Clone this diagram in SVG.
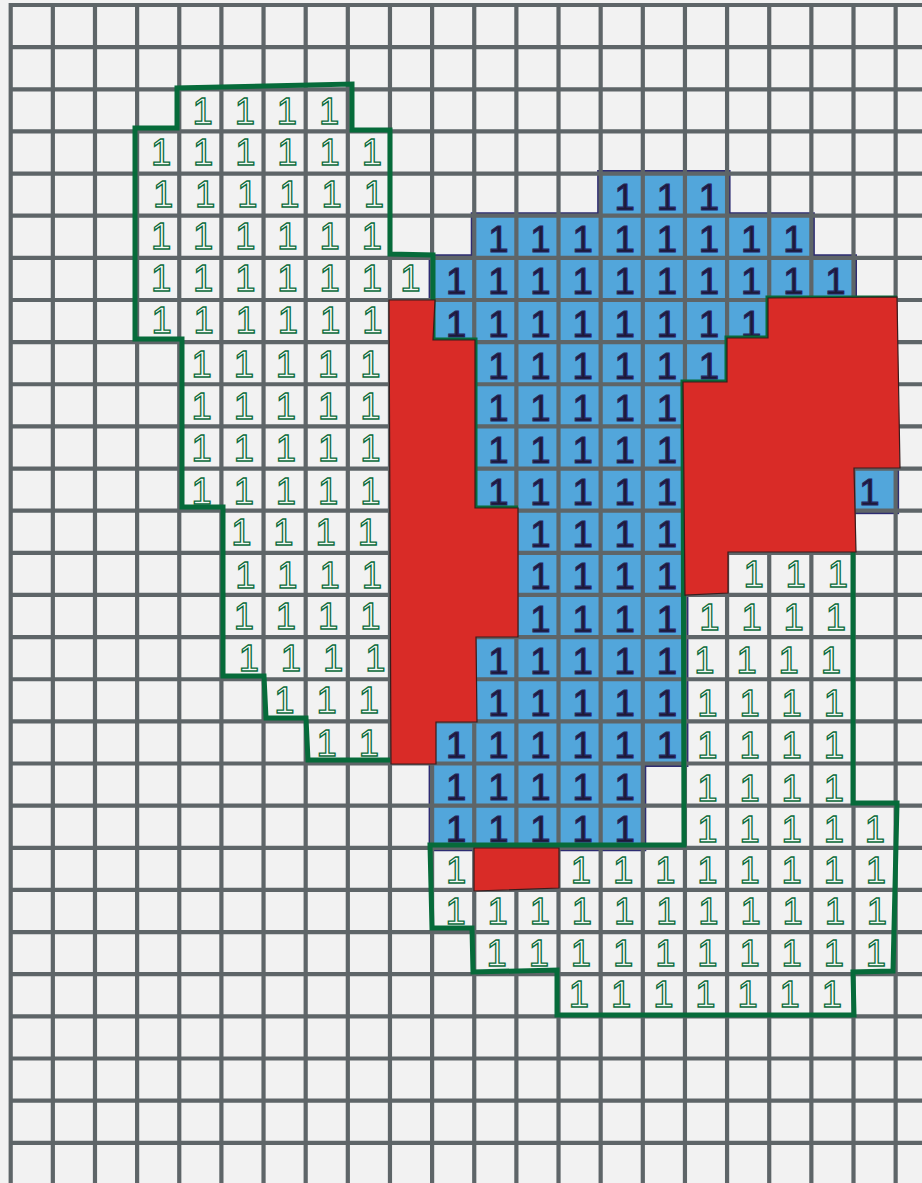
<svg xmlns="http://www.w3.org/2000/svg" width="922" height="1183" viewBox="0 0 922 1183">
<style>
.grid{fill:none;stroke:#5e6568;stroke-width:4.2}
.bl{fill:#52a6db}
.blo{fill:none;stroke:#2d2c72;stroke-width:7;stroke-linejoin:miter}
.b{font-family:"Liberation Sans",Arial,sans-serif;font-size:36.5px;fill:#1c1a36;stroke:#26245e;stroke-width:1.2px;text-anchor:middle}
.g{font-family:"Liberation Sans",Arial,sans-serif;font-size:36.5px;fill:#f7faf7;stroke:#0a6b3b;stroke-width:1.3px;text-anchor:middle}
.gl{fill:none;stroke:#066b3a;stroke-width:5;stroke-linejoin:miter}
.red{fill:#d92b27;stroke:#3a1c1c;stroke-width:1.2}
</style>
<rect x="0" y="0" width="922" height="1183" fill="#f2f2f2"/>
<g id="blue-region">
<path class="blo" d="M600.66,173.56 L727.08,173.56 L727.08,215.7 L811.36,215.7 L811.36,257.84 L853.5,257.84 L853.5,299.98 L769.22,299.98 L769.22,342.12 L727.08,342.12 L727.08,384.26 L684.94,384.26 L684.94,763.52 L642.8,763.52 L642.8,847.8 L432.1,847.8 L432.1,721.38 L474.24,721.38 L474.24,637.1 L516.38,637.1 L516.38,510.68 L474.24,510.68 L474.24,342.12 L432.1,342.12 L432.1,257.84 L474.24,257.84 L474.24,215.7 L600.66,215.7 Z"/>
<rect class="blo" x="853.5" y="468.54" width="42.14" height="42.14"/>
<path class="bl" d="M600.66,173.56 L727.08,173.56 L727.08,215.7 L811.36,215.7 L811.36,257.84 L853.5,257.84 L853.5,299.98 L769.22,299.98 L769.22,342.12 L727.08,342.12 L727.08,384.26 L684.94,384.26 L684.94,763.52 L642.8,763.52 L642.8,847.8 L432.1,847.8 L432.1,721.38 L474.24,721.38 L474.24,637.1 L516.38,637.1 L516.38,510.68 L474.24,510.68 L474.24,342.12 L432.1,342.12 L432.1,257.84 L474.24,257.84 L474.24,215.7 L600.66,215.7 Z"/>
<rect class="bl" x="853.5" y="468.54" width="42.14" height="42.14"/>
</g>
<g id="grid">
<path class="grid" d="M10.7,3V1183 M52.84,3V1183 M94.98,3V1183 M137.12,3V1183 M179.26,3V1183 M221.4,3V1183 M263.54,3V1183 M305.68,3V1183 M347.82,3V1183 M389.96,3V1183 M432.1,3V1183 M474.24,3V1183 M516.38,3V1183 M558.52,3V1183 M600.66,3V1183 M642.8,3V1183 M684.94,3V1183 M727.08,3V1183 M769.22,3V1183 M811.36,3V1183 M853.5,3V1183 M895.64,3V1183 M8.6,5H922 M8.6,47.14H922 M8.6,89.28H922 M8.6,131.42H922 M8.6,173.56H922 M8.6,215.7H922 M8.6,257.84H922 M8.6,299.98H922 M8.6,342.12H922 M8.6,384.26H922 M8.6,426.4H922 M8.6,468.54H922 M8.6,510.68H922 M8.6,552.82H922 M8.6,594.96H922 M8.6,637.1H922 M8.6,679.24H922 M8.6,721.38H922 M8.6,763.52H922 M8.6,805.66H922 M8.6,847.8H922 M8.6,889.94H922 M8.6,932.08H922 M8.6,974.22H922 M8.6,1016.36H922 M8.6,1058.5H922 M8.6,1100.64H922 M8.6,1142.78H922"/>
</g>
<g id="blue-values">
<text class="b" x="624.7" y="210.1">1</text><text class="b" x="666.9" y="210.1">1</text><text class="b" x="709" y="210.1">1</text>
<text class="b" x="498.3" y="252.2">1</text><text class="b" x="540.5" y="252.2">1</text><text class="b" x="582.6" y="252.2">1</text><text class="b" x="624.7" y="252.2">1</text><text class="b" x="666.9" y="252.2">1</text><text class="b" x="709" y="252.2">1</text><text class="b" x="751.2" y="252.2">1</text><text class="b" x="793.3" y="252.2">1</text>
<text class="b" x="456.2" y="294.3">1</text><text class="b" x="498.3" y="294.3">1</text><text class="b" x="540.5" y="294.3">1</text><text class="b" x="582.6" y="294.3">1</text><text class="b" x="624.7" y="294.3">1</text><text class="b" x="666.9" y="294.3">1</text><text class="b" x="709" y="294.3">1</text><text class="b" x="751.2" y="294.3">1</text><text class="b" x="793.3" y="294.3">1</text><text class="b" x="835.4" y="294.3">1</text>
<text class="b" x="456.2" y="336.5">1</text><text class="b" x="498.3" y="336.5">1</text><text class="b" x="540.5" y="336.5">1</text><text class="b" x="582.6" y="336.5">1</text><text class="b" x="624.7" y="336.5">1</text><text class="b" x="666.9" y="336.5">1</text><text class="b" x="709" y="336.5">1</text><text class="b" x="751.2" y="336.5">1</text>
<text class="b" x="498.3" y="378.6">1</text><text class="b" x="540.5" y="378.6">1</text><text class="b" x="582.6" y="378.6">1</text><text class="b" x="624.7" y="378.6">1</text><text class="b" x="666.9" y="378.6">1</text><text class="b" x="709" y="378.6">1</text>
<text class="b" x="498.3" y="420.8">1</text><text class="b" x="540.5" y="420.8">1</text><text class="b" x="582.6" y="420.8">1</text><text class="b" x="624.7" y="420.8">1</text><text class="b" x="666.9" y="420.8">1</text>
<text class="b" x="498.3" y="462.9">1</text><text class="b" x="540.5" y="462.9">1</text><text class="b" x="582.6" y="462.9">1</text><text class="b" x="624.7" y="462.9">1</text><text class="b" x="666.9" y="462.9">1</text>
<text class="b" x="498.3" y="505">1</text><text class="b" x="540.5" y="505">1</text><text class="b" x="582.6" y="505">1</text><text class="b" x="624.7" y="505">1</text><text class="b" x="666.9" y="505">1</text><text class="b" x="869.4" y="505">1</text>
<text class="b" x="540.5" y="547.2">1</text><text class="b" x="582.6" y="547.2">1</text><text class="b" x="624.7" y="547.2">1</text><text class="b" x="666.9" y="547.2">1</text>
<text class="b" x="540.5" y="589.3">1</text><text class="b" x="582.6" y="589.3">1</text><text class="b" x="624.7" y="589.3">1</text><text class="b" x="666.9" y="589.3">1</text>
<text class="b" x="540.5" y="631.5">1</text><text class="b" x="582.6" y="631.5">1</text><text class="b" x="624.7" y="631.5">1</text><text class="b" x="666.9" y="631.5">1</text>
<text class="b" x="498.3" y="673.6">1</text><text class="b" x="540.5" y="673.6">1</text><text class="b" x="582.6" y="673.6">1</text><text class="b" x="624.7" y="673.6">1</text><text class="b" x="666.9" y="673.6">1</text>
<text class="b" x="498.3" y="715.7">1</text><text class="b" x="540.5" y="715.7">1</text><text class="b" x="582.6" y="715.7">1</text><text class="b" x="624.7" y="715.7">1</text><text class="b" x="666.9" y="715.7">1</text>
<text class="b" x="456.2" y="757.9">1</text><text class="b" x="498.3" y="757.9">1</text><text class="b" x="540.5" y="757.9">1</text><text class="b" x="582.6" y="757.9">1</text><text class="b" x="624.7" y="757.9">1</text><text class="b" x="666.9" y="757.9">1</text>
<text class="b" x="456.2" y="800">1</text><text class="b" x="498.3" y="800">1</text><text class="b" x="540.5" y="800">1</text><text class="b" x="582.6" y="800">1</text><text class="b" x="624.7" y="800">1</text>
<text class="b" x="456.2" y="842.2">1</text><text class="b" x="498.3" y="842.2">1</text><text class="b" x="540.5" y="842.2">1</text><text class="b" x="582.6" y="842.2">1</text><text class="b" x="624.7" y="842.2">1</text>
</g>
<g id="green-values-left">
<text class="g" x="202.7" y="123.8">1</text><text class="g" x="244.9" y="123.8">1</text><text class="g" x="287" y="123.8">1</text><text class="g" x="329.2" y="123.8">1</text>
<text class="g" x="161.1" y="164.9">1</text><text class="g" x="203.2" y="164.9">1</text><text class="g" x="245.4" y="164.9">1</text><text class="g" x="287.5" y="164.9">1</text><text class="g" x="329.7" y="164.9">1</text><text class="g" x="371.8" y="164.9">1</text>
<text class="g" x="163.1" y="207.1">1</text><text class="g" x="205.2" y="207.1">1</text><text class="g" x="247.4" y="207.1">1</text><text class="g" x="289.5" y="207.1">1</text><text class="g" x="331.7" y="207.1">1</text><text class="g" x="373.8" y="207.1">1</text>
<text class="g" x="161.1" y="248.7">1</text><text class="g" x="203.2" y="248.7">1</text><text class="g" x="245.4" y="248.7">1</text><text class="g" x="287.5" y="248.7">1</text><text class="g" x="329.7" y="248.7">1</text><text class="g" x="371.8" y="248.7">1</text>
<text class="g" x="161.1" y="290.8">1</text><text class="g" x="203.2" y="290.8">1</text><text class="g" x="245.4" y="290.8">1</text><text class="g" x="287.5" y="290.8">1</text><text class="g" x="329.7" y="290.8">1</text><text class="g" x="371.8" y="290.8">1</text><text class="g" x="410.4" y="290.8">1</text>
<text class="g" x="161.6" y="333">1</text><text class="g" x="203.7" y="333">1</text><text class="g" x="245.9" y="333">1</text><text class="g" x="288" y="333">1</text><text class="g" x="330.2" y="333">1</text><text class="g" x="372.3" y="333">1</text>
<text class="g" x="201.7" y="377.1">1</text><text class="g" x="243.9" y="377.1">1</text><text class="g" x="286" y="377.1">1</text><text class="g" x="328.2" y="377.1">1</text><text class="g" x="370.3" y="377.1">1</text>
<text class="g" x="201.7" y="419.3">1</text><text class="g" x="243.9" y="419.3">1</text><text class="g" x="286" y="419.3">1</text><text class="g" x="328.2" y="419.3">1</text><text class="g" x="370.3" y="419.3">1</text>
<text class="g" x="201.7" y="461.4">1</text><text class="g" x="243.9" y="461.4">1</text><text class="g" x="286" y="461.4">1</text><text class="g" x="328.2" y="461.4">1</text><text class="g" x="370.3" y="461.4">1</text>
<text class="g" x="201.7" y="503.5">1</text><text class="g" x="243.9" y="503.5">1</text><text class="g" x="286" y="503.5">1</text><text class="g" x="328.2" y="503.5">1</text><text class="g" x="370.3" y="503.5">1</text>
<text class="g" x="241.4" y="544.7">1</text><text class="g" x="283.5" y="544.7">1</text><text class="g" x="325.7" y="544.7">1</text><text class="g" x="367.8" y="544.7">1</text>
<text class="g" x="245.4" y="587.8">1</text><text class="g" x="287.5" y="587.8">1</text><text class="g" x="329.7" y="587.8">1</text><text class="g" x="371.8" y="587.8">1</text>
<text class="g" x="243.9" y="629">1</text><text class="g" x="286" y="629">1</text><text class="g" x="328.2" y="629">1</text><text class="g" x="370.3" y="629">1</text>
<text class="g" x="248.9" y="670.6">1</text><text class="g" x="291" y="670.6">1</text><text class="g" x="333.2" y="670.6">1</text><text class="g" x="375.3" y="670.6">1</text>
<text class="g" x="284.5" y="712.7">1</text><text class="g" x="326.7" y="712.7">1</text><text class="g" x="368.8" y="712.7">1</text>
<text class="g" x="326.7" y="755.9">1</text><text class="g" x="368.8" y="755.9">1</text>
</g>
<g id="green-values-right">
<text class="g" x="753.6" y="586.8">1</text><text class="g" x="795.7" y="586.8">1</text><text class="g" x="837.8" y="586.8">1</text>
<text class="g" x="709.4" y="630">1</text><text class="g" x="751.6" y="630">1</text><text class="g" x="793.7" y="630">1</text><text class="g" x="835.8" y="630">1</text>
<text class="g" x="704.4" y="673.1">1</text><text class="g" x="746.6" y="673.1">1</text><text class="g" x="788.7" y="673.1">1</text><text class="g" x="830.8" y="673.1">1</text>
<text class="g" x="707.4" y="716.2">1</text><text class="g" x="749.6" y="716.2">1</text><text class="g" x="791.7" y="716.2">1</text><text class="g" x="833.8" y="716.2">1</text>
<text class="g" x="707.4" y="758.4">1</text><text class="g" x="749.6" y="758.4">1</text><text class="g" x="791.7" y="758.4">1</text><text class="g" x="833.8" y="758.4">1</text>
<text class="g" x="707.4" y="800.5">1</text><text class="g" x="749.6" y="800.5">1</text><text class="g" x="791.7" y="800.5">1</text><text class="g" x="833.8" y="800.5">1</text>
<text class="g" x="707.4" y="841.7">1</text><text class="g" x="749.6" y="841.7">1</text><text class="g" x="791.7" y="841.7">1</text><text class="g" x="833.8" y="841.7">1</text><text class="g" x="875" y="841.7">1</text>
<text class="g" x="456.1" y="883.3">1</text><text class="g" x="581" y="883.3">1</text><text class="g" x="623.1" y="883.3">1</text><text class="g" x="665.3" y="883.3">1</text><text class="g" x="707.4" y="883.3">1</text><text class="g" x="749.6" y="883.3">1</text><text class="g" x="791.7" y="883.3">1</text><text class="g" x="833.8" y="883.3">1</text><text class="g" x="876" y="883.3">1</text>
<text class="g" x="455.6" y="924.4">1</text><text class="g" x="497.7" y="924.4">1</text><text class="g" x="539.9" y="924.4">1</text><text class="g" x="582" y="924.4">1</text><text class="g" x="624.1" y="924.4">1</text><text class="g" x="666.3" y="924.4">1</text><text class="g" x="708.4" y="924.4">1</text><text class="g" x="750.6" y="924.4">1</text><text class="g" x="792.7" y="924.4">1</text><text class="g" x="834.8" y="924.4">1</text><text class="g" x="877" y="924.4">1</text>
<text class="g" x="496.7" y="965.6">1</text><text class="g" x="538.9" y="965.6">1</text><text class="g" x="581" y="965.6">1</text><text class="g" x="623.1" y="965.6">1</text><text class="g" x="665.3" y="965.6">1</text><text class="g" x="707.4" y="965.6">1</text><text class="g" x="749.6" y="965.6">1</text><text class="g" x="791.7" y="965.6">1</text><text class="g" x="833.8" y="965.6">1</text><text class="g" x="876" y="965.6">1</text>
<text class="g" x="579" y="1006.7">1</text><text class="g" x="621.1" y="1006.7">1</text><text class="g" x="663.3" y="1006.7">1</text><text class="g" x="705.4" y="1006.7">1</text><text class="g" x="747.6" y="1006.7">1</text><text class="g" x="789.7" y="1006.7">1</text><text class="g" x="831.8" y="1006.7">1</text>
</g>
<g id="green-outlines">
<path class="gl" d="M518,508 L475,508 L475,340 L433,340 L433,255 L390,254 L390,130 L352,130 L352,84 L177,88 L177,128 L135,128 L135,339 L182,339 L182,507 L223,507 L223,676 L264,676 L266,718 L306,718 L308,760 L390,760"/>
<path class="gl" d="M897,298 L768,298 L768,338 L727,338 L727,382 L683,382 L684,845 L430,845 L432,928 L472,928 L473,972 L557,970 L557,1015 L854,1015 L853,972 L893,971 L897,803 L853,803 L853,552"/>
</g>
<g id="red-regions">
<path class="red" d="M389,300 L435,300 L433,340 L475,340 L475,508 L518,508 L518,637 L476,637 L477,722 L436,722 L436,764 L391,764 Z"/>
<path class="red" d="M683,382 L727,382 L727,338 L768,338 L768,298 L897,297 L900,468 L854,468 L856,552 L728,552 L728,593 L685,595 Z"/>
<path class="red" d="M474,848 L559,848 L559,888 L474,891 Z"/>
</g>
</svg>
